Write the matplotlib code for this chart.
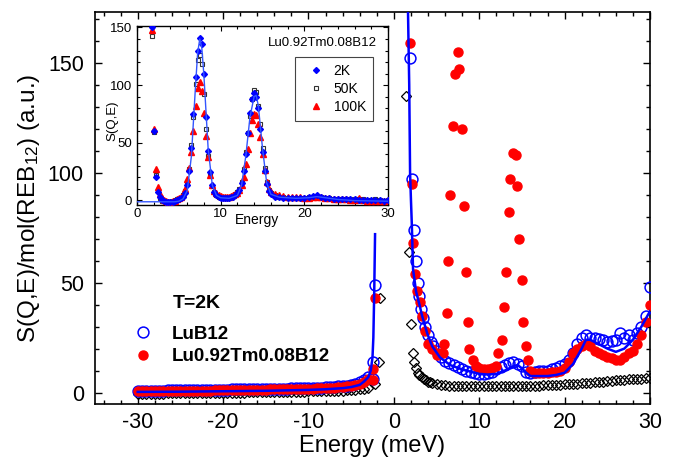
#inelastic neutron scattering spectra: LuB12 vs Lu0.92Tm0.08B12, with CEF inset

import numpy as np
import matplotlib
matplotlib.use('Agg')
import matplotlib.pyplot as plt
from matplotlib.ticker import MultipleLocator

plt.rcParams['font.family'] = ['Liberation Sans', 'DejaVu Sans']
plt.rcParams['axes.unicode_minus'] = False
plt.rcParams['mathtext.fontset'] = 'custom'
plt.rcParams['mathtext.rm'] = 'Liberation Sans'
plt.rcParams['mathtext.default'] = 'regular'

#---------------- main panel data (T=2K) ----------------
#energy loss side, common grid -30 .. -3 meV
e_neg = np.arange(-30, -2.75, 0.5)
lub12_neg = [0.8, 0.8, 0.8, 0.9, 0.9, 0.9, 0.9, 1.0, 1.0, 1.0, 1.0, 1.1, 1.1, 1.1, 1.1, 1.2, 1.2, 1.2, 1.3, 1.3, 1.3,
             1.3, 1.4, 1.4, 1.4, 1.5, 1.5, 1.5, 1.6, 1.6, 1.6, 1.7, 1.7, 1.8, 1.8, 1.8, 1.9, 1.9, 2.0, 2.0, 2.1,
             2.1, 2.2, 2.3, 2.4, 2.5, 2.6, 2.8, 3.0, 3.2, 3.5,
             4.0, 4.6, 5.5, 7.0]
lutm_neg = [0.5, 0.5, 0.5, 0.6, 0.6, 0.6, 0.6, 0.7, 0.7, 0.7, 0.7, 0.8, 0.8, 0.8, 0.8, 0.9, 0.9, 0.9, 1.0, 1.0, 1.0,
            1.0, 1.1, 1.1, 1.1, 1.2, 1.2, 1.2, 1.3, 1.3, 1.3, 1.4, 1.4, 1.5, 1.5, 1.5, 1.6, 1.6, 1.7, 1.7, 1.8,
            1.8, 1.9, 2.0, 2.1, 2.2, 2.3, 2.5, 2.7, 2.9, 3.2,
            3.6, 4.1, 4.8, 6.0]
ref_neg = [-0.6, -0.6, -0.6, -0.5, -0.5, -0.5, -0.5, -0.4, -0.4, -0.4, -0.4, -0.3, -0.3, -0.3, -0.3, -0.2, -0.2, -0.2, -0.1, -0.1, -0.1,
           -0.1, 0.0, 0.0, 0.0, 0.0, 0.1, 0.1, 0.1, 0.1, 0.2, 0.2, 0.2, 0.3, 0.3, 0.3, 0.3, 0.4, 0.4, 0.4, 0.5,
           0.5, 0.5, 0.6, 0.6, 0.7, 0.7, 0.8, 0.9, 1.0, 1.1,
           1.3, 1.5, 1.8, 2.2]

#points close to the elastic line
lub12_near_x = [-2.5, -2.4, -2.2]
lub12_near_y = [6, 14, 49]
lutm_near_x = [-2.5, -2.4, -2.2]
lutm_near_y = [5.5, 10.5, 43]
ref_near_x = [-2.2, -1.7, -1.6]
ref_near_y = [4, 14, 43]

#energy gain side
lub12_pos_x = [1.9, 2.1, 2.4, 2.6, 2.8, 3.0, 3.2, 3.4, 3.7, 4.0, 4.3, 4.6, 5.0, 5.5, 6.0, 6.5, 7.0, 7.5, 8.0, 8.5,
               9.0, 9.5, 10.0, 10.5, 11.0, 11.5, 12.0, 12.5, 13.0, 13.5, 14.0, 14.5, 15.0, 15.5, 16.0, 16.5, 17.0,
               17.5, 18.0, 18.5, 19.0, 19.5, 20.0, 20.5, 21.0, 21.5, 22.0, 22.5, 23.0, 23.5, 24.0, 24.5, 25.0, 25.5,
               26.0, 26.5, 27.0, 27.5, 28.0, 28.5, 29.0, 29.5, 30.0]
lub12_pos_y = [152, 97, 74, 60, 50, 44, 38, 34, 30, 26, 23, 21, 19, 16, 14.5, 13.5, 12.5, 11.5, 10.5, 10,
               9.5, 9, 8.5, 8.5, 9, 9.5, 10.5, 11.5, 12.5, 13.5, 14, 13, 12, 9.5, 9, 9.5, 10,
               10, 10, 10.5, 11, 12, 13, 15, 18, 22, 25, 26, 25, 25, 24.5, 24, 23, 23.5,
               24, 27, 25, 26, 24, 27, 30, 35, 48]

lutm_pos_x = [1.9, 2.1, 2.25, 2.5, 2.7, 3.1, 3.3, 3.6, 4.0, 4.5, 5.0, 5.4, 5.8, 5.9, 6.2, 6.3, 6.6, 6.9, 7.2, 7.5,
              7.6, 8.0, 8.2, 8.5, 8.7, 8.8, 9.3, 9.6, 10.0, 10.5, 11.0, 11.5, 12.0, 12.2, 12.7, 12.9, 13.1, 13.5,
              13.6, 14.0, 14.3, 14.4, 14.7, 15.0, 15.1, 15.5, 15.7, 16.0, 16.5, 17.0, 17.5, 18.0, 18.5, 19.0,
              19.5, 20.0, 20.5, 21.0, 21.5, 22.0, 22.5, 23.0, 23.5, 24.0, 24.5, 25.0, 25.5, 26.0, 26.5, 27.0,
              27.5, 28.0, 28.5, 29.0, 29.5, 30.0]
lutm_pos_y = [159, 95, 68, 54, 46, 41, 35, 28, 22, 20, 17, 18, 18, 22, 36, 60, 90, 121, 145, 155,
              147, 120, 85, 55, 32, 20, 15, 12, 11, 10.5, 10.5, 11, 12, 18, 24, 39, 55, 82,
              97, 109, 108, 94, 70, 51, 32, 21, 15, 10, 9, 9, 9, 9, 9.5, 9.5,
              10, 11, 14, 18, 20, 21, 22, 21, 19, 18, 17, 16, 15.5, 15, 15, 16,
              18, 19, 22, 26, 32, 40]

ref_pos_x = [1.4, 1.8, 2.0, 2.2, 2.4, 2.6, 2.8, 3.0, 3.25, 3.5, 3.75, 4.0, 4.25, 4.5, 5.0,
             5.5, 6.0, 6.5, 7.0, 7.5, 8.0, 8.5, 9.0, 9.5, 10.0, 10.5, 11.0, 11.5, 12.0, 12.5, 13.0, 13.5,
             14.0, 14.5, 15.0, 15.5, 16.0, 16.5, 17.0, 17.5, 18.0, 18.5, 19.0, 19.5, 20.0, 20.5, 21.0,
             21.5, 22.0, 22.5, 23.0, 23.5, 24.0, 24.5, 25.0, 25.5, 26.0, 26.5, 27.0, 27.5, 28.0, 28.5,
             29.0, 29.5, 30.0]
ref_pos_y = [135, 64, 31, 18, 14, 11, 9, 8, 7, 6.2, 5.6, 5.0, 4.6, 4.2, 3.8,
             3.5, 3.3, 3.2, 3.0, 3.0, 2.9, 2.9, 2.8, 2.8, 2.8, 2.8, 2.8, 2.8, 2.9, 2.9, 2.9, 3.0,
             3.0, 3.0, 3.0, 3.1, 3.1, 3.2, 3.2, 3.3, 3.3, 3.4, 3.5, 3.6, 3.7, 3.8, 3.9,
             4.0, 4.2, 4.3, 4.5, 4.6, 4.8, 5.0, 5.2, 5.4, 5.5, 5.7, 5.8, 6.0, 6.1, 6.2,
             6.3, 6.4, 6.5]

#fit line for LuB12 (two branches, elastic line left out)
fit_neg_x = [-30, -25, -20, -15, -10, -8, -6, -5, -4, -3.5, -3, -2.7, -2.5, -2.4, -2.3, -2.2]
fit_neg_y = [0.3, 0.4, 0.6, 0.8, 1.2, 1.5, 2, 2.5, 3.5, 5, 7, 10, 16, 25, 45, 72]
fit_pos_x = [1.65, 1.8, 1.9, 2.0, 2.1, 2.25, 2.6, 3.0, 3.3, 3.9, 4.5, 5.4, 6.6, 8.0, 9.0, 10.0, 11.0, 12.0,
             13.0, 14.0, 14.5, 15.0, 15.5, 16.0, 17.0, 18.0, 19.0, 20.0, 21.0, 22.0, 22.5, 23.0, 24.0, 25.0,
             26.0, 27.0, 28.0, 29.0, 30.0]
fit_pos_y = [175, 140, 100, 88, 77, 56, 46, 40, 35, 27, 21, 16, 12.5, 10.5, 9.5, 8.5, 8.2, 8.5,
             10, 12, 12.5, 11, 9, 7.5, 7.5, 7.5, 8, 9, 13, 20, 24, 24, 22, 20,
             18.5, 20, 24, 30, 37]

#---------------- inset data: Lu0.92Tm0.08B12 CEF spectra ----------------
e_in = [1.75, 2.0, 2.25, 2.5, 2.75, 3.0, 3.25, 3.5, 3.75, 4.0, 4.25, 4.5, 4.75, 5.0, 5.25, 5.5, 5.75,
        6.0, 6.25, 6.5, 6.75, 7.0, 7.25, 7.5, 7.75, 8.0, 8.25, 8.5, 8.75, 9.0, 9.25, 9.5, 9.75,
        10.0, 10.25, 10.5, 10.75, 11.0, 11.25, 11.5, 11.75, 12.0, 12.25, 12.5, 12.75, 13.0, 13.25, 13.5, 13.75,
        14.0, 14.25, 14.5, 14.75, 15.0, 15.25, 15.5, 15.75, 16.0, 16.5, 17.0, 17.5, 18.0, 18.5, 19.0, 19.5,
        20.0, 20.5, 21.0, 21.5, 22.0, 22.5, 23.0, 23.5, 24.0, 24.5, 25.0, 25.5, 26.0, 26.5, 27.0, 27.5,
        28.0, 28.5, 29.0, 29.5, 30.0]
s_2k = [150, 60, 20, 7, 3, 0, -1, -2, -2, -2, -1.5, -1, 0, 0.5, 1.5, 3, 6,
        13, 25, 45, 75, 107, 130, 141, 136, 110, 72, 43, 24, 13, 7, 4, 3,
        2, 2, 2, 2, 2, 2.5, 3, 4, 6, 9, 15, 25, 40, 58, 76, 88,
        93, 90, 80, 62, 42, 25, 14, 8, 5, 3, 2.5, 2, 2, 2, 2, 2,
        2, 2.5, 3.5, 4, 3, 2, 1.5, 1, 1, 0.5, 0.5, 0.5, 0.5, 0, 0, 0,
        0, 0, 0, -0.5, 0]
s_50k = [143, 59, 22, 8, 2, -1, -1, -2, -2, -1.5, -1, 0, 0.5, 1, 2, 4, 8,
         15, 27, 48, 72, 101, 122, 126, 118, 92, 62, 38, 22, 12, 7, 4, 3,
         3, 3, 2.5, 2.5, 3, 3, 3.5, 5, 7, 10, 16, 27, 42, 58, 73, 88,
         96, 94, 82, 66, 45, 28, 16, 9, 6, 4, 3, 2.5, 2, 2, 2, 2,
         2, 2.5, 3, 3.5, 3, 2, 1.5, 1, 1, 1, 0.5, 0.5, 0.5, 0.5, 0.5, 0,
         0, 0.5, 0, -0.5, 0]
s_100k = [148, 62, 27, 11, 5, 2, 0, -1, -2, -1.5, -1, -0.5, 0.5, 1.5, 3, 5, 10,
          18, 28, 42, 60, 82, 97, 103, 95, 76, 56, 37, 22, 13, 8, 6, 4,
          3.5, 3, 3, 3, 3, 3.5, 4, 5, 6, 9, 13, 20, 31, 44, 58, 70,
          75, 74, 66, 55, 40, 26, 16, 10, 7, 5, 4, 3.5, 3, 3, 2.5, 2.5,
          2, 2, 2.5, 3, 2.5, 2, 1.5, 1, 1, 0.5, 0.5, 0, 0, 1.5, 0, -0.5,
          -0.5, -0.5, -0.5, -0.5, 0]
fit_in_x = [0, 4.5, 5.0, 5.5, 6.0, 6.5, 7.0, 7.25, 7.5, 7.75, 8.0, 8.5, 9.0, 9.5, 10, 11, 12, 12.5, 13, 13.5,
            14, 14.25, 14.5, 15, 15.5, 16, 17, 19, 20.5, 21.5, 22.5, 24, 26, 30]
fit_in_y = [-1.5, -1.5, -1, 1, 8, 38, 100, 128, 140, 132, 108, 45, 13, 4, 2, 1.5, 4, 13, 38, 72,
            90, 91, 82, 45, 15, 5, 2.5, 1.5, 2, 3, 2, 0.5, -0.5, -1]

#---------------- figure ----------------
fig = plt.figure(figsize=(6.74, 4.57), dpi=100)
ax = fig.add_axes([95/674, 1-404/457, 555/674, 392/457])

ax.plot(np.concatenate([e_neg, ref_near_x, ref_pos_x]), np.concatenate([ref_neg, ref_near_y, ref_pos_y]),
        'D', ms=5.2, mfc='none', mec='black', mew=0.9, ls='none', zorder=2)
ax.plot(np.concatenate([e_neg, lub12_near_x, lub12_pos_x]), np.concatenate([lub12_neg, lub12_near_y, lub12_pos_y]),
        'o', ms=7.8, mfc='none', mec='#0000ff', mew=1.1, ls='none', zorder=3, label='LuB12')
ax.plot(np.concatenate([e_neg, lutm_near_x, lutm_pos_x]), np.concatenate([lutm_neg, lutm_near_y, lutm_pos_y]),
        'o', ms=6.5, color='#ff0000', mec='#ff0000', ls='none', zorder=4, label='Lu0.92Tm0.08B12')
ax.plot(fit_neg_x, fit_neg_y, '-', color='#0000ff', lw=1.8, zorder=5)
ax.plot(fit_pos_x, fit_pos_y, '-', color='#0000ff', lw=1.8, zorder=5)

ax.set_xlim(-35, 30)
ax.set_ylim(-5.2, 173)
ax.xaxis.set_major_locator(MultipleLocator(10))
ax.xaxis.set_minor_locator(MultipleLocator(2))
ax.yaxis.set_major_locator(MultipleLocator(50))
ax.yaxis.set_minor_locator(MultipleLocator(10))
ax.tick_params(which='both', direction='in', top=True, right=True, width=1.0)
ax.tick_params(which='major', length=5, labelsize=15.5)
ax.tick_params(which='minor', length=3)
ax.tick_params(axis='x', pad=6)
ax.tick_params(axis='y', pad=8)
for sp in ax.spines.values():
	sp.set_linewidth(1.2)
ax.set_xlabel('Energy (meV)', fontsize=17, labelpad=1)
ax.set_ylabel('S(Q,E)/mol(REB$_{12}$) (a.u.)', fontsize=17.5, labelpad=4)

#legend and temperature label
ax.legend(loc='upper left', bbox_to_anchor=(0.0695, 0.2), frameon=False,
          prop={'weight': 'bold', 'size': 13.5}, handlelength=1.0, handletextpad=1.05,
          borderpad=0, borderaxespad=0, labelspacing=0.3)
ax.text((173-95)/555, (404-303)/392, 'T=2K', transform=ax.transAxes, fontsize=14, fontweight='bold',
        ha='left', va='center')

#inset
axi = fig.add_axes([137/674, 1-205/457, 251/674, 179/457])
axi.set_facecolor('white')
axi.plot(e_in, s_50k, 's', ms=3.3, mfc='none', mec='#333333', mew=0.8, ls='none', label='50K', zorder=2)
axi.plot(e_in, s_100k, '^', ms=4.3, color='#ff0000', mec='#ff0000', ls='none', label='100K', zorder=3)
axi.plot(e_in, s_2k, 'D', ms=3.0, color='#0000ff', mec='#0000ff', ls='none', label='2K', zorder=4)
axi.plot(fit_in_x, fit_in_y, '-', color='#3355ff', lw=1.0, zorder=5)
axi.set_xlim(0, 30)
axi.set_ylim(-4.3, 151.3)
axi.xaxis.set_major_locator(MultipleLocator(10))
axi.xaxis.set_minor_locator(MultipleLocator(2))
axi.yaxis.set_major_locator(MultipleLocator(50))
axi.yaxis.set_minor_locator(MultipleLocator(10))
axi.tick_params(which='both', direction='in', top=True, right=True, width=0.8)
axi.tick_params(which='major', length=3.5, labelsize=9.5)
axi.tick_params(which='minor', length=2)
axi.tick_params(axis='x', pad=2)
axi.tick_params(axis='y', pad=3.5)
for sp in axi.spines.values():
	sp.set_linewidth(1.0)
axi.set_xlabel('Energy', fontsize=10)
axi.xaxis.set_label_coords(0.478, -0.045)
axi.set_ylabel('S(Q,E)', fontsize=9.5)
axi.yaxis.set_label_coords(-0.074, 0.47)
axi.text(0.956, 0.905, 'Lu0.92Tm0.08B12', transform=axi.transAxes, fontsize=9.5, ha='right', va='center')
hi, li = axi.get_legend_handles_labels()
order = [2, 0, 1]
leg = axi.legend([hi[i] for i in order], [li[i] for i in order], loc='upper right', bbox_to_anchor=(0.94, 0.827),
                 fontsize=10, handlelength=2.0, handletextpad=0.3, borderpad=0.5, borderaxespad=0,
                 labelspacing=0.3, fancybox=False, framealpha=1, edgecolor='#444444')
leg.get_frame().set_linewidth(0.8)

fig.savefig('out.png', dpi=100)
